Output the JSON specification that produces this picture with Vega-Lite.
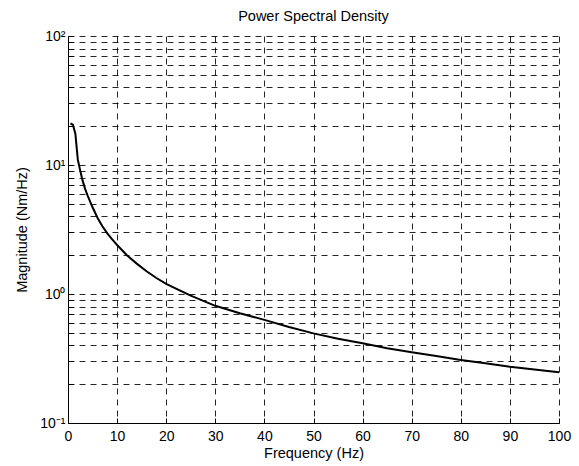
{
  "$schema": "https://vega.github.io/schema/vega-lite/v6.json",
  "width": 491,
  "height": 387,
  "autosize": "none",
  "padding": {"left": 68, "top": 36, "right": 20, "bottom": 43},
  "background": "white",
  "title": {"text": "Power Spectral Density", "font": "Liberation Sans", "fontSize": 14.5, "fontWeight": "normal", "color": "black", "offset": 5},
  "config": {
    "view": {"stroke": null},
    "axis": {"labelFont": "Liberation Sans", "titleFont": "Liberation Sans", "labelColor": "black", "titleColor": "black", "titleFontWeight": "normal", "labelFontSize": 14, "titleFontSize": 14.5, "domainColor": "black", "gridColor": "black", "gridDash": [6, 5], "gridOpacity": 0.85, "gridWidth": 1}
  },
  "data": {"values": [
    {"f": 0.5, "m": 21}, {"f": 1, "m": 20.5}, {"f": 1.5, "m": 17.5}, {"f": 2, "m": 11}, {"f": 2.5, "m": 9},
    {"f": 3, "m": 7.5}, {"f": 3.5, "m": 6.5}, {"f": 4, "m": 5.8}, {"f": 5, "m": 4.7}, {"f": 6, "m": 3.9},
    {"f": 7, "m": 3.35}, {"f": 8, "m": 2.95}, {"f": 9, "m": 2.65}, {"f": 10, "m": 2.4}, {"f": 12, "m": 2.0},
    {"f": 14, "m": 1.72}, {"f": 16, "m": 1.5}, {"f": 18, "m": 1.33}, {"f": 20, "m": 1.2}, {"f": 22, "m": 1.1},
    {"f": 25, "m": 0.97}, {"f": 30, "m": 0.81}, {"f": 35, "m": 0.71}, {"f": 40, "m": 0.63}, {"f": 45, "m": 0.555},
    {"f": 50, "m": 0.495}, {"f": 55, "m": 0.45}, {"f": 60, "m": 0.415}, {"f": 65, "m": 0.38}, {"f": 70, "m": 0.353},
    {"f": 75, "m": 0.33}, {"f": 80, "m": 0.308}, {"f": 85, "m": 0.29}, {"f": 90, "m": 0.273}, {"f": 95, "m": 0.26},
    {"f": 100, "m": 0.247}
  ]},
  "mark": {"type": "line", "color": "black", "strokeWidth": 2},
  "encoding": {
    "x": {"field": "f", "type": "quantitative", "title": "Frequency (Hz)",
      "scale": {"domain": [0, 100], "nice": false, "zero": false},
      "axis": {"values": [0, 10, 20, 30, 40, 50, 60, 70, 80, 90, 100], "grid": true, "ticks": true, "tickSize": -5, "tickColor": "black", "labelPadding": 11, "titlePadding": 3, "labelFlush": false}},
    "y": {"field": "m", "type": "quantitative", "title": "Magnitude (Nm/Hz)",
      "scale": {"type": "log", "domain": [0.1, 100], "nice": false},
      "axis": {"values": [0.1, 0.2, 0.3, 0.4, 0.5, 0.6, 0.7, 0.8, 0.9, 1, 2, 3, 4, 5, 6, 7, 8, 9, 10, 20, 30, 40, 50, 60, 70, 80, 90, 100],
        "labelExpr": "datum.value == 100 ? '10²' : datum.value == 10 ? '10¹' : datum.value == 1 ? '10⁰' : datum.value == 0.1 ? '10⁻¹' : ''",
        "grid": true, "ticks": true, "tickSize": -5, "tickColor": "black", "labelPadding": 8, "titlePadding": 10, "labelOverlap": false}}
  }
}
